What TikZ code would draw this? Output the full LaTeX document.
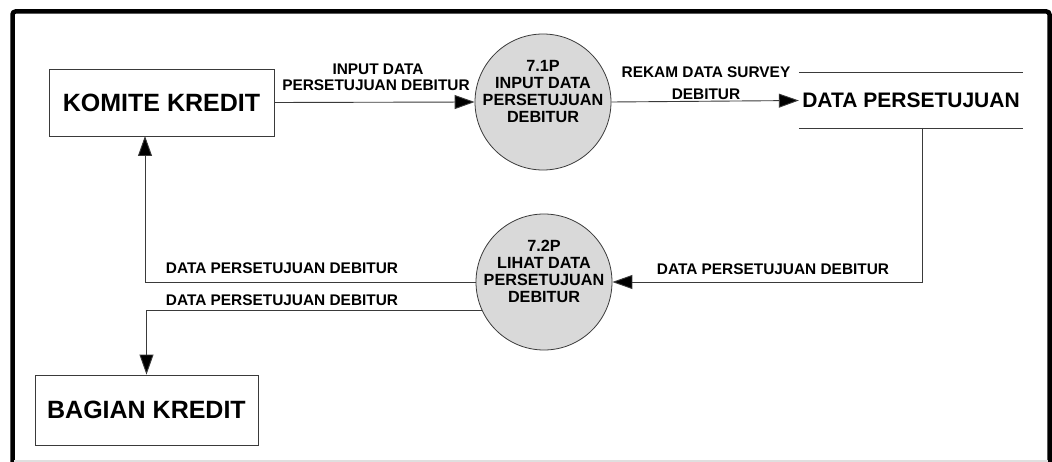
\documentclass[tikz,border=0pt]{standalone}
\usepackage{fontspec}
\setmainfont{Liberation Sans}
\usetikzlibrary{arrows.meta}
\definecolor{ln}{HTML}{3A3A3A}
\definecolor{pfill}{HTML}{D9D9D9}
\begin{document}
\begin{tikzpicture}[x=1pt,y=1pt,
  ent/.style={draw=ln,line width=0.9pt,fill=white,inner sep=0pt,font=\fontsize{25}{28}\selectfont\bfseries},
  proc/.style={circle,draw=ln,line width=0.8pt,fill=pfill,minimum size=136pt,inner sep=0pt},
  ptext/.style={align=center,font=\fontsize{16.2}{17}\selectfont\bfseries,inner sep=0pt},
  lbl/.style={font=\fontsize{15.4}{17}\selectfont\bfseries,inner sep=0pt},
  flow/.style={draw=ln,line width=0.9pt,-{Triangle[length=20pt,width=14pt,fill=black]}},
  plain/.style={draw=ln,line width=0.9pt}]
\useasboundingbox (0,0) rectangle (1052,-462);
% frame
\draw[line width=4.5pt,rounded corners=3pt] (12.5,-470) -- (12.5,-11.5) -- (1049.5,-11.5) -- (1049.5,-470);
\draw[draw=gray!25,line width=1.5pt] (14,-461) -- (1048,-461);
% entities
\node[ent,minimum width=225pt,minimum height=67pt] (komite) at (161.5,-102.5) {KOMITE KREDIT};
\node[ent,minimum width=223pt,minimum height=70pt] (bagian) at (146.5,-410) {BAGIAN KREDIT};
% processes
\node[proc] (p1) at (543,-102) {};
\node[ptext] (p1t) at (543,-92) {7.1P\\INPUT DATA\\PERSETUJUAN\\DEBITUR};
\node[proc] (p2) at (544,-282) {};
\node[ptext] (p2t) at (544,-271) {7.2P\\LIHAT DATA\\PERSETUJUAN\\DEBITUR};
% data store
\node[inner sep=0pt,minimum width=224pt,minimum height=55pt,font=\fontsize{21}{24}\selectfont\bfseries] (store) at (911,-100.5) {DATA PERSETUJUAN};
\draw[plain] (store.north west) -- (store.north east);
\draw[plain] (store.south west) -- (store.south east);
\coordinate (sb) at (922,-128);
\coordinate (kb) at (145,-136);
% flows
\draw[flow] (komite.east) -- (p1.west);
\draw[flow] (p1.east) -- (store.west);
\draw[flow] (sb) |- (p2.east);
\draw[flow] (p2.west) -| (kb);
\draw[flow] (p2.205) -| (bagian.north);
% labels
\node[lbl] (l1a) at (378,-69) {INPUT DATA};
\node[lbl] (l1b) at (376,-85) {PERSETUJUAN DEBITUR};
\node[lbl] (l2a) at (706,-72) {REKAM DATA SURVEY};
\node[lbl] (l2b) at (706,-94) {DEBITUR};
\node[lbl] (l3) at (773,-269) {DATA PERSETUJUAN DEBITUR};
\node[lbl] (l4) at (282,-268.5) {DATA PERSETUJUAN DEBITUR};
\node[lbl] (l5) at (282,-300) {DATA PERSETUJUAN DEBITUR};
\end{tikzpicture}
\end{document}
